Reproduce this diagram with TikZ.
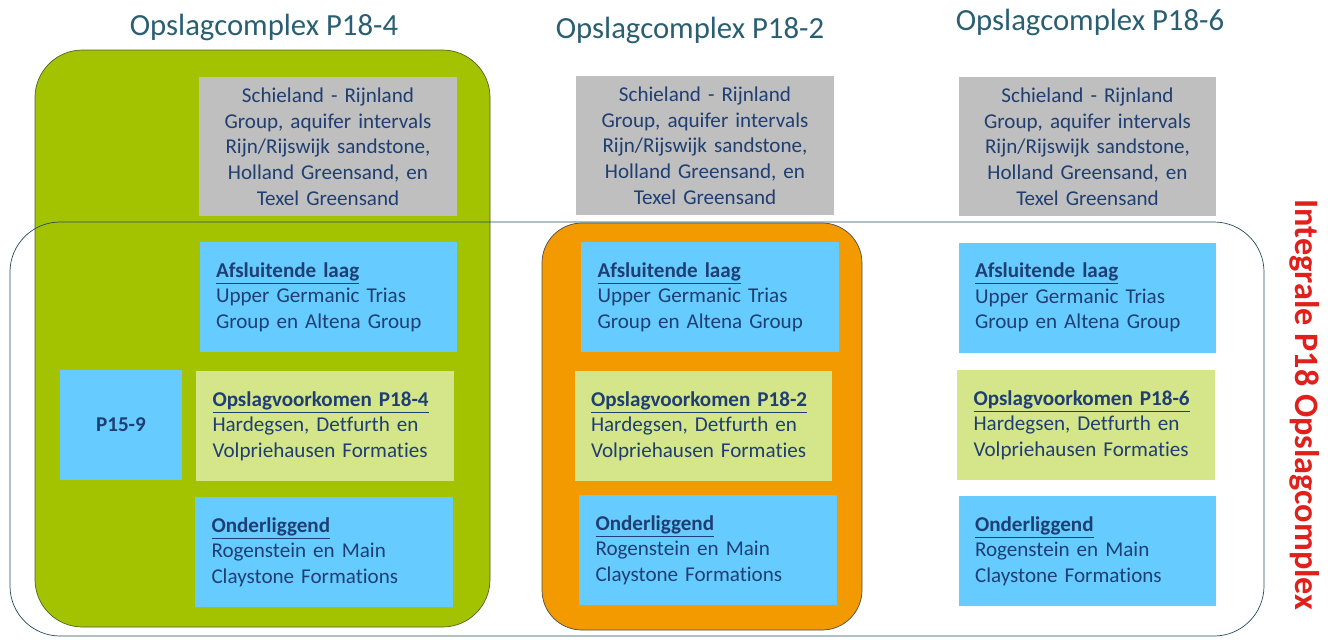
\documentclass[tikz,border=0pt]{standalone}
\usepackage{fontspec}
\setmainfont[Ligatures=NoCommon]{Carlito}
\usetikzlibrary{positioning}
\definecolor{Navy}{HTML}{1F3F73}
\definecolor{Teal}{HTML}{2A5F72}
\definecolor{Olive}{HTML}{A3C300}
\definecolor{OliveLine}{HTML}{4F6228}
\definecolor{Orange}{HTML}{F39A00}
\definecolor{Sky}{HTML}{66CCFF}
\definecolor{Lime}{HTML}{D5E68A}
\definecolor{Stone}{HTML}{BFBFBF}
\definecolor{Signal}{HTML}{E0201B}
\newcommand{\kop}[1]{\textbf{\underline{#1}}}

\begin{document}
\begin{tikzpicture}[
    lyr/.style={fill=Sky,minimum width=5.15cm,minimum height=2.2cm,inner sep=0pt,text width=4.5cm,align=left,text=Navy,font=\fontsize{12}{14.6}\selectfont},
    res/.style={lyr,fill=Lime},
    top/.style={fill=Stone,minimum width=5.15cm,minimum height=2.78cm,inner sep=0pt,text width=5.15cm,align=center,text=Navy,font=\fontsize{12}{14.6}\selectfont},
    ttl/.style={text=Teal,font=\fontsize{17.5}{20}\selectfont}
  ]
    \useasboundingbox (0,0) rectangle (26.56,-12.78);
    % panels
    \draw[OliveLine,fill=Olive,rounded corners=0.95cm] (0.70,-1.00) rectangle (9.80,-12.54);
    \draw[black!70,fill=Orange,rounded corners=0.8cm] (10.84,-4.46) rectangle (17.24,-12.60);
    \draw[Teal!80!black,rounded corners=1.0cm] (0.20,-4.44) rectangle (25.28,-12.72);
    % titles
    \node[ttl] (t4) at (5.28,-0.54) {Opslagcomplex P18-4};
    \node[ttl] (t2) at (13.80,-0.60) {Opslagcomplex P18-2};
    \node[ttl] (t6) at (21.80,-0.44) {Opslagcomplex P18-6};
    \node[rotate=-90,text=Signal,font=\fontsize{19.5}{22}\selectfont\bfseries] (integr) at (26.10,-8.10) {Integrale P18 Opslagcomplex};
    % column P18-4
    \node[top] (sr4) at (6.56,-2.93) {Schieland - Rijnland\\Group, aquifer intervals\\Rijn/Rijswijk sandstone,\\Holland Greensand, en\\Texel Greensand};
    \node[lyr] (af4) at (6.57,-5.94) {\kop{Afsluitende laag}\\Upper Germanic Trias\\Group en Altena Group};
    \node[res] (op4) at (6.50,-8.52) {\kop{Opslagvoorkomen P18-4}\\Hardegsen, Detfurth en\\Volpriehausen Formaties};
    \node[lyr] (on4) at (6.48,-11.04) {\kop{Onderliggend}\\Rogenstein en Main\\Claystone Formations};
    \node[lyr,minimum width=2.44cm,text width=2.44cm,align=center,font=\fontsize{12}{14.6}\selectfont\bfseries] (p159) at (2.42,-8.49) {P15-9};
    % column P18-2
    \node[top] (sr2) at (14.10,-2.91) {Schieland - Rijnland\\Group, aquifer intervals\\Rijn/Rijswijk sandstone,\\Holland Greensand, en\\Texel Greensand};
    \node[lyr] (af2) at (14.20,-5.94) {\kop{Afsluitende laag}\\Upper Germanic Trias\\Group en Altena Group};
    \node[res] (op2) at (14.07,-8.52) {\kop{Opslagvoorkomen P18-2}\\Hardegsen, Detfurth en\\Volpriehausen Formaties};
    \node[lyr] (on2) at (14.16,-11.00) {\kop{Onderliggend}\\Rogenstein en Main\\Claystone Formations};
    % column P18-6
    \node[top] (sr6) at (21.75,-2.93) {Schieland - Rijnland\\Group, aquifer intervals\\Rijn/Rijswijk sandstone,\\Holland Greensand, en\\Texel Greensand};
    \node[lyr] (af6) at (21.75,-5.95) {\kop{Afsluitende laag}\\Upper Germanic Trias\\Group en Altena Group};
    \node[res] (op6) at (21.72,-8.50) {\kop{Opslagvoorkomen P18-6}\\Hardegsen, Detfurth en\\Volpriehausen Formaties};
    \node[lyr] (on6) at (21.75,-11.02) {\kop{Onderliggend}\\Rogenstein en Main\\Claystone Formations};
  \end{tikzpicture}
\end{document}
